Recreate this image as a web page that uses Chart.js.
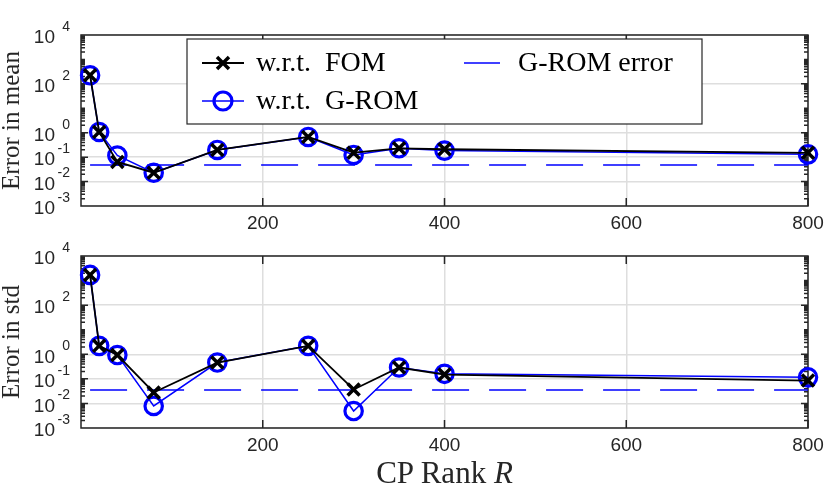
<!DOCTYPE html>
<html>
<head>
<meta charset="utf-8">
<script src="https://cdn.jsdelivr.net/npm/chart.js@4/dist/chart.umd.min.js"></script>
<style>
  body { margin: 0; background: #fff; }
  #wrap { position: relative; width: 830px; height: 497px; background: #fff; }
  canvas { position: absolute; left: 0; }
  #c1 { top: 0; }
  #c2 { top: 240px; }
  #xlabel {
    position: absolute; left: 81px; width: 727px; top: 455px;
    text-align: center; line-height: 32px;
    font: 31px "Liberation Serif", serif; color: #262626;
  }
</style>
</head>
<body>
<div id="wrap">
  <canvas id="c1" width="830" height="240"></canvas>
  <canvas id="c2" width="830" height="257"></canvas>
  <div id="xlabel">CP Rank <i>R</i></div>
</div>
<script>
// CP rank on the x axis
const rank = [10, 20, 40, 80, 150, 250, 300, 350, 400, 800];

// error in mean
const meanFom  = [224, 1.07, 0.064, 0.023, 0.197, 0.67, 0.153, 0.23, 0.21, 0.15];
const meanGrom = [224, 1.07, 0.117, 0.023, 0.197, 0.67, 0.123, 0.23, 0.185, 0.13];
const meanGromErr = 0.048;

// error in std
const stdFom  = [1700, 2.2, 0.93, 0.028, 0.46, 2.2, 0.037, 0.29, 0.15, 0.085];
const stdGrom = [1700, 2.2, 0.93, 0.0079, 0.46, 2.2, 0.0049, 0.29, 0.16, 0.115];
const stdGromErr = 0.035;

const xTicks = [200, 400, 600, 800];
const yTicks = [1e-3, 1e-2, 1e-1, 1, 1e2, 1e4];
const seriesLabels = ['w.r.t. FOM', 'w.r.t. G-ROM', 'G-ROM error'];

const AXIS = '#262626';
const GRID = '#dedede';
const BLUE = '#0000ff';

// axes box + inward ticks (drawn under the data, like MATLAB)
const boxPlugin = {
  id: 'box',
  beforeDatasetsDraw(chart) {
    const { ctx, chartArea: a } = chart;
    const ys = chart.scales.y, xs = chart.scales.x;
    ctx.save();
    ctx.strokeStyle = AXIS;
    ctx.lineWidth = 1.5;
    ctx.beginPath();
    // minor y ticks
    for (let n = -3; n < 4; n++) {
      for (let k = 1; k < 10; k++) {
        const v = k * Math.pow(10, n);
        if (v <= 1e-3) continue;
        const major = yTicks.some(t => Math.abs(t - v) < v * 1e-6);
        const len = major ? 7 : 4;
        const y = ys.getPixelForValue(v);
        ctx.moveTo(a.left, y); ctx.lineTo(a.left + len, y);
        ctx.moveTo(a.right, y); ctx.lineTo(a.right - len, y);
      }
    }
    xTicks.forEach(v => {
      const x = xs.getPixelForValue(v);
      ctx.moveTo(x, a.bottom); ctx.lineTo(x, a.bottom - 8);
      ctx.moveTo(x, a.top); ctx.lineTo(x, a.top + 8);
    });
    ctx.stroke();
    ctx.strokeRect(a.left, a.top, a.right - a.left, a.bottom - a.top);
    ctx.restore();
  },
  afterDraw(chart) {
    // y tick labels as 10 with a raised exponent
    const { ctx } = chart;
    const ys = chart.scales.y;
    ctx.save();
    ctx.fillStyle = AXIS;
    ctx.textBaseline = 'middle';
    ys.ticks.forEach(t => {
      const y = ys.getPixelForValue(t.value);
      const e = Math.round(Math.log10(t.value));
      ctx.textAlign = 'right';
      ctx.font = '19px "Liberation Sans", Arial, sans-serif';
      ctx.fillText('10', 55, y + 3);
      ctx.font = '14px "Liberation Sans", Arial, sans-serif';
      ctx.fillText(String(e), 70, y - 8);
    });
    ctx.restore();
  }
};

const legendPlugin = {
  id: 'boxLegend',
  afterDraw(chart, args, opts) {
    if (!opts.show) return;
    const { ctx } = chart;
    const ds = chart.data.datasets;
    ctx.save();
    ctx.fillStyle = '#fff';
    ctx.fillRect(187, 39, 515, 85);
    ctx.strokeStyle = AXIS;
    ctx.lineWidth = 1.2;
    ctx.strokeRect(187, 39, 515, 85);

    ctx.lineWidth = ds[0].borderWidth;
    ctx.strokeStyle = ds[0].borderColor;
    ctx.beginPath(); ctx.moveTo(202, 63); ctx.lineTo(244, 63); ctx.stroke();
    ctx.lineWidth = 3.5;
    ctx.beginPath();
    ctx.moveTo(217, 57); ctx.lineTo(229, 69);
    ctx.moveTo(229, 57); ctx.lineTo(217, 69);
    ctx.stroke();

    ctx.lineWidth = ds[1].borderWidth;
    ctx.strokeStyle = ds[1].borderColor;
    ctx.beginPath(); ctx.moveTo(202, 101); ctx.lineTo(244, 101); ctx.stroke();
    ctx.lineWidth = 3.2;
    ctx.beginPath(); ctx.arc(223, 101, 9, 0, Math.PI * 2); ctx.stroke();

    ctx.lineWidth = ds[2].borderWidth;
    ctx.strokeStyle = ds[2].borderColor;
    ctx.beginPath(); ctx.moveTo(464, 63); ctx.lineTo(500, 63); ctx.stroke();

    ctx.fillStyle = '#000';
    ctx.font = '28px "Liberation Serif", serif';
    ctx.textAlign = 'left';
    ctx.textBaseline = 'middle';
    ctx.fillText(ds[0].label.replace('. ', '.  '), 256, 64);
    ctx.fillText(ds[1].label.replace('. ', '.  '), 256, 102);
    ctx.fillText(ds[2].label, 518, 64);
    ctx.restore();
  }
};

function makeChart(id, fom, grom, err, yTitle, padTop, xAxisHeight, showLegend) {
  const ctx = document.getElementById(id).getContext('2d');
  return new Chart(ctx, {
    type: 'line',
    data: {
      datasets: [
        {
          label: seriesLabels[0],
          data: rank.map((x, i) => ({ x: x, y: fom[i] })),
          borderColor: '#000',
          borderWidth: 1.8,
          pointStyle: 'crossRot',
          pointRadius: 8.5,
          pointBorderWidth: 3.5,
          pointBorderColor: '#000',
          pointBackgroundColor: 'rgba(0,0,0,0)',
          tension: 0,
          clip: false
        },
        {
          label: seriesLabels[1],
          data: rank.map((x, i) => ({ x: x, y: grom[i] })),
          borderColor: BLUE,
          borderWidth: 1.5,
          pointStyle: 'circle',
          pointRadius: 8.7,
          pointBorderWidth: 3.2,
          pointBorderColor: BLUE,
          pointBackgroundColor: 'rgba(0,0,0,0)',
          tension: 0,
          clip: false
        },
        {
          label: seriesLabels[2],
          data: [rank[0], rank[rank.length - 1]].map(x => ({ x: x, y: err })),
          borderColor: BLUE,
          borderWidth: 1.5,
          borderDash: [37, 20],
          pointRadius: 0,
          tension: 0
        }
      ]
    },
    options: {
      responsive: false,
      animation: false,
      events: [],
      layout: { padding: { top: padTop, right: 22, left: 0, bottom: 0 } },
      plugins: {
        legend: { display: false },
        tooltip: { enabled: false },
        boxLegend: { show: showLegend }
      },
      scales: {
        x: {
          type: 'linear',
          min: 0,
          max: 800,
          afterBuildTicks: s => { s.ticks = xTicks.map(v => ({ value: v })); },
          afterFit: s => { s.height = xAxisHeight; },
          border: { display: false },
          grid: { color: GRID, lineWidth: 1.5, drawTicks: false },
          ticks: {
            color: AXIS,
            padding: 6,
            maxRotation: 0,
            font: { family: '"Liberation Sans", Arial, sans-serif', size: 19 }
          }
        },
        y: {
          type: 'logarithmic',
          min: 1e-3,
          max: 1e4,
          afterBuildTicks: s => { s.ticks = yTicks.map(v => ({ value: v })); },
          afterFit: s => { s.width = 81; },
          border: { display: false },
          grid: { color: GRID, lineWidth: 1.5, drawTicks: false },
          ticks: { display: false },
          title: {
            display: true,
            text: yTitle,
            color: AXIS,
            padding: 0,
            font: { family: '"Liberation Serif", serif', size: 25, lineHeight: 1 }
          }
        }
      }
    },
    plugins: [boxPlugin, legendPlugin]
  });
}

makeChart('c1', meanFom, meanGrom, meanGromErr, 'Error in mean', 35, 34, true);
makeChart('c2', stdFom, stdGrom, stdGromErr, 'Error in std', 16, 69, false);
</script>
</body>
</html>
